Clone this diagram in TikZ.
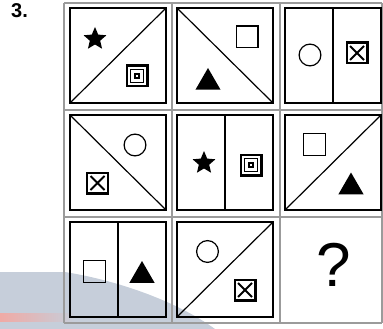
\documentclass[tikz,border=0pt]{standalone}
\usepackage{fontspec}
\setsansfont{Liberation Sans}
\usetikzlibrary{shapes.geometric, shapes.misc}
\definecolor{gridgray}{RGB}{155,155,155}
\definecolor{washblue}{RGB}{198,206,218}
\definecolor{washred}{RGB}{240,170,165}

\begin{document}
\begin{tikzpicture}[x=1pt, y=-1pt,
    gridline/.style={gridgray, line width=1.4pt},
    box/.style={draw, line width=2pt},
    split/.style={line width=1.2pt},
    starsym/.style={star, star points=5, star point ratio=2.2, fill, inner sep=0pt, minimum size=24pt},
    trisym/.style={regular polygon, regular polygon sides=3, fill, inner sep=0pt, minimum size=29pt},
    circsym/.style={circle, draw, line width=1.2pt, inner sep=0pt, minimum size=21.8pt},
    sqsym/.style={rectangle, draw, line width=1.3pt, inner sep=0pt, minimum size=21.7pt},
    xbox/.style={rectangle, draw, line width=2.4pt, inner sep=0pt, minimum size=20.6pt},
    xmark/.style={cross out, draw, line width=2pt, inner sep=0pt, minimum size=12pt},
    tgt/.style={rectangle, draw, inner sep=0pt}]

  \useasboundingbox (0,0) rectangle (383,329);

  % faded wash at the bottom left
  \fill[washblue] (0,272) -- (65,272) .. controls (115,280) and (175,300) .. (215,329) -- (0,329) -- cycle;
  \shade[left color=washred, right color=washblue] (0,313) rectangle (75,321);

  % outer grid
  \foreach \gx in {64,172,280,382}{
    \draw[gridline] (\gx,3) -- (\gx,323);
  }
  \foreach \gy in {3,110,217,323}{
    \draw[gridline] (64,\gy) -- (382,\gy);
  }

  % inner boxes (column x / row y)
  \foreach \cx/\ry in {70/8, 177/8, 285/8, 70/115, 177/115, 285/115, 70/222, 177/222}{
    \draw[box] (\cx,\ry) rectangle ++(96,95);
  }
  % rising diagonals
  \foreach \cx/\ry in {70/8, 285/115, 177/222}{
    \draw[split] (\cx,\ry+95) -- (\cx+96,\ry);
  }
  % falling diagonals
  \foreach \cx/\ry in {177/8, 70/115}{
    \draw[split] (\cx,\ry) -- (\cx+96,\ry+95);
  }
  % vertical splits
  \foreach \cx/\ry in {285/8, 177/115, 70/222}{
    \draw[split] (\cx+48,\ry) -- (\cx+48,\ry+95);
  }

  % Row 1
  \node[starsym] (star1) at (95,39) {};
  \node[tgt, line width=2.3pt, minimum size=20.7pt] (tgt1) at (137,76) {};
  \node[tgt, line width=1.3pt, minimum size=13.2pt] (tgt1m) at (tgt1) {};
  \node[tgt, line width=1.8pt, minimum size=4.2pt] (tgt1i) at (tgt1) {};
  \node[sqsym] (sq2) at (247,37) {};
  \node[trisym] (tri2) at (208,82.5) {};
  \node[circsym] (circ3) at (310,55) {};
  \node[xbox] (xb3) at (357,53) {};
  \node[xmark] (xm3) at (xb3) {};

  % Row 2
  \node[circsym] (circ4) at (135,145) {};
  \node[xbox] (xb4) at (97.5,183) {};
  \node[xmark] (xm4) at (xb4) {};
  \node[starsym] (star5) at (204,163) {};
  \node[tgt, line width=2.3pt, minimum size=20.7pt] (tgt5) at (251,165) {};
  \node[tgt, line width=1.3pt, minimum size=13.2pt] (tgt5m) at (tgt5) {};
  \node[tgt, line width=1.8pt, minimum size=4.2pt] (tgt5i) at (tgt5) {};
  \node[sqsym] (sq6) at (314.5,144.5) {};
  \node[trisym] (tri6) at (351,187) {};

  % Row 3
  \node[sqsym] (sq7) at (94.5,271.5) {};
  \node[trisym] (tri7) at (142,275.5) {};
  \node[circsym] (circ8) at (207.5,251.5) {};
  \node[xbox] (xb8) at (245,290) {};
  \node[xmark] (xm8) at (xb8) {};
  \node[font=\sffamily\fontsize{62}{62}\selectfont] (qmark) at (334,265) {?};

  % Number
  \node[font=\sffamily\bfseries\fontsize{20}{20}\selectfont, anchor=base west, inner sep=0pt] (num) at (11,17.5) {3.};
\end{tikzpicture}
\end{document}
